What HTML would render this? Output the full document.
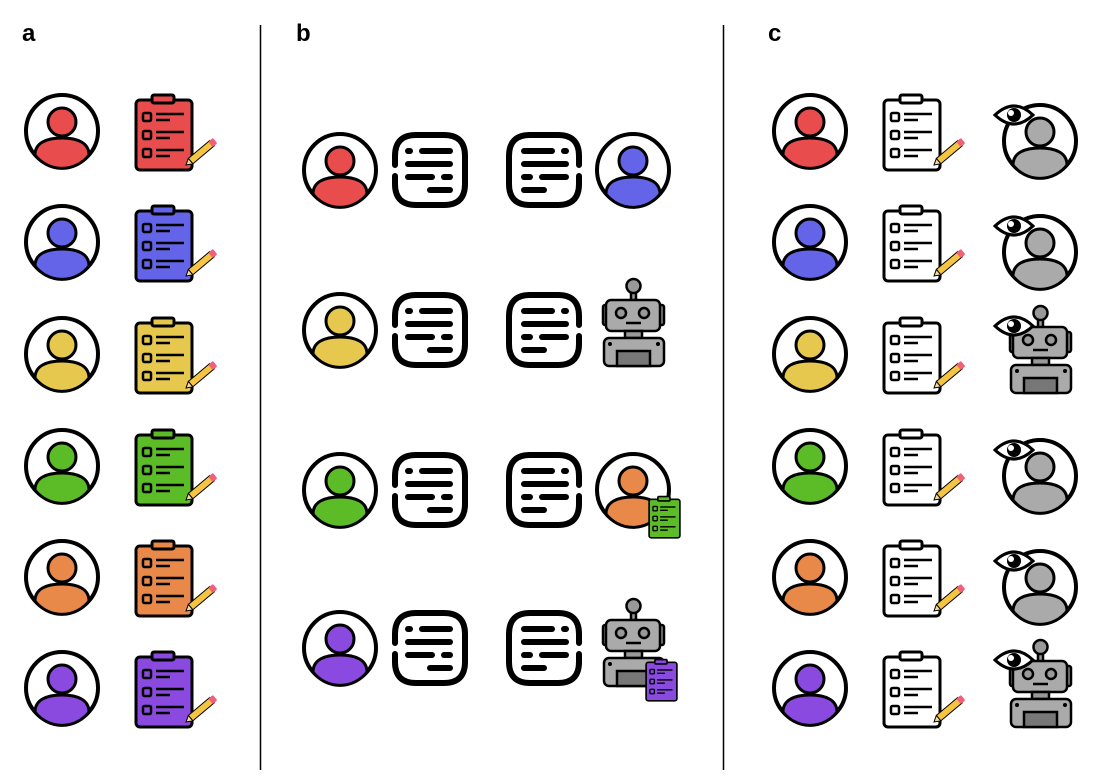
<!DOCTYPE html>
<html><head><meta charset="utf-8"><style>
html,body{margin:0;padding:0;background:#fff;}
svg{display:block}
text{font-family:"Liberation Sans",sans-serif;font-weight:bold;font-size:24px;fill:#000}
</style></head><body>
<svg width="1097" height="776" viewBox="0 0 1097 776" xmlns="http://www.w3.org/2000/svg">
<defs>
<symbol id="person" viewBox="0 0 80 80" width="80" height="80" overflow="visible">
  <circle cx="40" cy="40" r="36" fill="#fff" stroke="#000" stroke-width="4"/>
  <path d="M13,64 C13,52 24,47 40,47 C56,47 67,52 67,64 A34,34 0 0 1 13,64 Z" fill="currentColor" stroke="#000" stroke-width="3"/>
  <circle cx="40" cy="31" r="14" fill="currentColor" stroke="#000" stroke-width="3"/>
</symbol>
<symbol id="clipbase" viewBox="0 0 80 80" width="80" height="80" overflow="visible">
  <rect x="2" y="6" width="56" height="70" rx="4" fill="currentColor" stroke="#000" stroke-width="3"/>
  <rect x="18" y="1" width="22" height="8" rx="2" fill="currentColor" stroke="#000" stroke-width="3"/>
  <g fill="none" stroke="#000" stroke-width="2.5">
    <rect x="9" y="19" width="8" height="8" rx="1.5"/>
    <rect x="9" y="37" width="8" height="8" rx="1.5"/>
    <rect x="9" y="55" width="8" height="8" rx="1.5"/>
  </g>
  <g stroke="#000" stroke-width="2.5">
    <line x1="22" y1="20" x2="50" y2="20"/><line x1="22" y1="26" x2="36" y2="26"/>
    <line x1="22" y1="38" x2="50" y2="38"/><line x1="22" y1="44" x2="36" y2="44"/>
    <line x1="22" y1="56" x2="50" y2="56"/><line x1="22" y1="62" x2="36" y2="62"/>
  </g>
</symbol>
<symbol id="clip" viewBox="0 0 80 80" width="80" height="80" overflow="visible">
  <use href="#clipbase"/>
  <g transform="translate(52,71) rotate(-40)">
    <rect x="6" y="-3.5" width="28" height="7" fill="#f5c542" stroke="#000" stroke-width="1"/>
    <rect x="32" y="-3.5" width="6" height="7" rx="1.5" fill="#f0607a"/>
    <path d="M6,-3.5 L0,0 L6,3.5 Z" fill="#f5d9a0" stroke="#000" stroke-width="1"/>
  </g>
</symbol>
<symbol id="chatL" viewBox="0 0 80 80" width="80" height="80" overflow="visible">
  <path d="M3,33 L3,24 Q3,3 24,3 L52,3 Q73,3 73,24 L73,52 Q73,73 52,73 L24,73 Q3,73 3,52 L3,44" fill="none" stroke="#000" stroke-width="6" stroke-linecap="round"/>
  <g stroke="#000" stroke-width="6" stroke-linecap="round">
    <line x1="16" y1="19" x2="18" y2="19"/><line x1="30" y1="19" x2="58" y2="19"/>
    <line x1="16" y1="32" x2="58" y2="32"/>
    <line x1="16" y1="45" x2="40" y2="45"/><line x1="52" y1="45" x2="58" y2="45"/>
    <line x1="38" y1="58" x2="58" y2="58"/>
  </g>
</symbol>
<symbol id="chatR" viewBox="0 0 80 80" width="80" height="80" overflow="visible">
  <path d="M73,33 L73,24 Q73,3 52,3 L24,3 Q3,3 3,24 L3,52 Q3,73 24,73 L52,73 Q73,73 73,52 L73,44" fill="none" stroke="#000" stroke-width="6" stroke-linecap="round"/>
  <g stroke="#000" stroke-width="6" stroke-linecap="round">
    <line x1="18" y1="19" x2="46" y2="19"/><line x1="58" y1="19" x2="60" y2="19"/>
    <line x1="18" y1="32" x2="60" y2="32"/>
    <line x1="18" y1="45" x2="24" y2="45"/><line x1="36" y1="45" x2="60" y2="45"/>
    <line x1="18" y1="58" x2="38" y2="58"/>
  </g>
</symbol>
<symbol id="robot" viewBox="0 0 62 90" width="62" height="90" overflow="visible">
  <g stroke="#000" stroke-width="2.5">
    <rect x="28" y="14" width="5" height="10" fill="#999"/>
    <circle cx="30.5" cy="9" r="7" fill="#999"/>
    <rect x="0" y="28" width="6" height="20" rx="2" fill="#888"/>
    <rect x="55" y="28" width="6" height="20" rx="2" fill="#888"/>
    <rect x="3" y="23" width="54" height="31" rx="5" fill="#aaa"/>
    <circle cx="18" cy="36" r="5" fill="#999"/>
    <circle cx="41" cy="36" r="5" fill="#999"/>
    <line x1="23" y1="46" x2="38" y2="46"/>
    <rect x="22" y="54" width="17" height="7" fill="#999"/>
    <rect x="1" y="61" width="60" height="28" rx="5" fill="#aaa"/>
    <rect x="14" y="74" width="33" height="15" fill="#777"/>
  </g>
  <circle cx="7" cy="67" r="2" fill="#000"/><circle cx="55" cy="67" r="2" fill="#000"/>
</symbol>
<symbol id="eye" viewBox="0 0 40 24" width="40" height="24" overflow="visible">
  <path d="M1,12 Q20,-6 39,12 Q20,30 1,12 Z" fill="#fff" stroke="#000" stroke-width="3"/>
  <circle cx="20" cy="12" r="7" fill="#000"/>
  <circle cx="17" cy="10" r="3" fill="#fff"/>
</symbol>
</defs>

<text x="22" y="41">a</text>
<text x="296" y="41">b</text>
<text x="768" y="41">c</text>
<line x1="260.5" y1="25" x2="260.5" y2="770" stroke="#000" stroke-width="1.5"/>
<line x1="723.5" y1="25" x2="723.5" y2="770" stroke="#000" stroke-width="1.5"/>

<!-- panel a -->
<g>
<use href="#person" x="22" y="91" style="color:#e84c4c"/><use href="#clip" x="134" y="94" style="color:#e84c4c"/>
<use href="#person" x="22" y="202" style="color:#6464e8"/><use href="#clip" x="134" y="205" style="color:#6464e8"/>
<use href="#person" x="22" y="314" style="color:#e6c84e"/><use href="#clip" x="134" y="317" style="color:#e6c84e"/>
<use href="#person" x="22" y="426" style="color:#5cbc28"/><use href="#clip" x="134" y="429" style="color:#5cbc28"/>
<use href="#person" x="22" y="537" style="color:#e8894a"/><use href="#clip" x="134" y="540" style="color:#e8894a"/>
<use href="#person" x="22" y="648" style="color:#8a4ae0"/><use href="#clip" x="134" y="651" style="color:#8a4ae0"/>
</g>

<!-- panel b -->
<g>
<use href="#person" x="300" y="130" style="color:#e84c4c"/><use href="#chatL" x="392" y="132"/><use href="#chatR" x="506" y="132"/><use href="#person" x="593" y="130" style="color:#6464e8"/>
<use href="#person" x="300" y="290" style="color:#e6c84e"/><use href="#chatL" x="392" y="292"/><use href="#chatR" x="506" y="292"/><use href="#robot" x="603" y="277"/>
<use href="#person" x="300" y="450" style="color:#5cbc28"/><use href="#chatL" x="392" y="452"/><use href="#chatR" x="506" y="452"/><use href="#person" x="593" y="450" style="color:#e8894a"/>
<g transform="translate(648,496) scale(0.55)"><use href="#clipbase" x="0" y="0" style="color:#5cbc28"/></g>
<use href="#person" x="300" y="608" style="color:#8a4ae0"/><use href="#chatL" x="392" y="610"/><use href="#chatR" x="506" y="610"/><use href="#robot" x="603" y="597"/>
<g transform="translate(645,659) scale(0.55)"><use href="#clipbase" x="0" y="0" style="color:#8a4ae0"/></g>
</g>

<!-- panel c -->
<g>
<use href="#person" x="770" y="91" style="color:#e84c4c"/><use href="#clip" x="882" y="94" style="color:#fff"/><use href="#person" x="1000" y="101" style="color:#aaa"/><use href="#eye" x="994" y="103"/>
<use href="#person" x="770" y="202" style="color:#6464e8"/><use href="#clip" x="882" y="205" style="color:#fff"/><use href="#person" x="1000" y="212" style="color:#aaa"/><use href="#eye" x="994" y="214"/>
<use href="#person" x="770" y="314" style="color:#e6c84e"/><use href="#clip" x="882" y="317" style="color:#fff"/><use href="#robot" x="1010" y="304"/><use href="#eye" x="994" y="314"/>
<use href="#person" x="770" y="426" style="color:#5cbc28"/><use href="#clip" x="882" y="429" style="color:#fff"/><use href="#person" x="1000" y="436" style="color:#aaa"/><use href="#eye" x="994" y="438"/>
<use href="#person" x="770" y="537" style="color:#e8894a"/><use href="#clip" x="882" y="540" style="color:#fff"/><use href="#person" x="1000" y="547" style="color:#aaa"/><use href="#eye" x="994" y="549"/>
<use href="#person" x="770" y="648" style="color:#8a4ae0"/><use href="#clip" x="882" y="651" style="color:#fff"/><use href="#robot" x="1010" y="638"/><use href="#eye" x="994" y="648"/>
</g>
</svg>
</body></html>
